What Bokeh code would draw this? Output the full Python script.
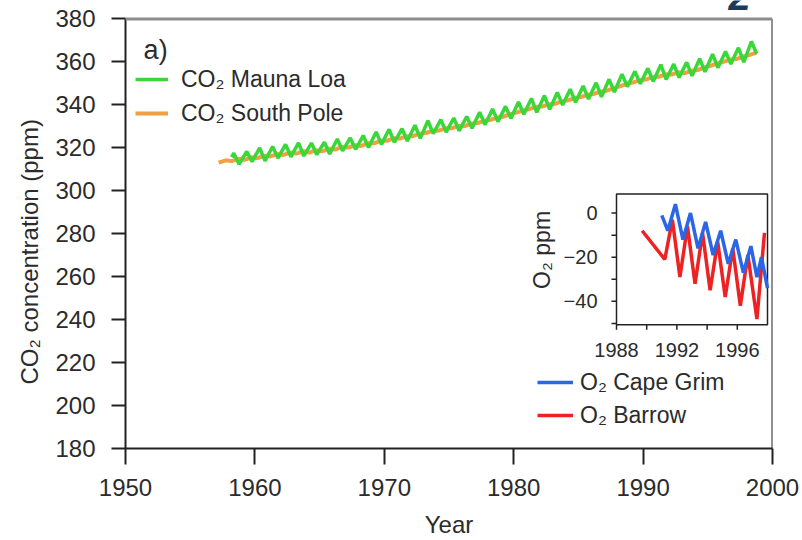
import math
from bokeh.plotting import figure
from bokeh.models import (Legend, LegendItem, Label, Span, FixedTicker, Range1d, Title)
from bokeh.core.properties import value
from bokeh.embed import file_html
from bokeh.resources import INLINE

# ---------------- data ----------------
# Mauna Loa CO2 (ppm): seasonal maximum (May) and minimum (Oct), 1958-1998
ml_years = list(range(1958, 1999))
ml_max = [317.5, 318.3, 320.0, 320.6, 321.6, 322.3, 322.2, 322.6, 324.1, 324.6,
          325.7, 327.4, 328.6, 328.9, 330.5, 332.6, 333.1, 333.9, 334.6, 336.6,
          338.1, 339.3, 341.4, 343.0, 344.3, 345.8, 347.3, 348.8, 350.3, 351.9,
          354.3, 355.6, 357.0, 358.7, 359.0, 359.8, 361.5, 363.6, 364.9, 366.6,
          369.5]
ml_min = [312.4, 313.6, 313.9, 315.2, 315.8, 316.2, 316.8, 317.1, 318.6, 319.3,
          320.1, 321.6, 322.6, 323.2, 324.4, 326.6, 327.3, 327.9, 329.1, 330.7,
          332.2, 333.7, 335.6, 336.5, 337.9, 339.9, 341.2, 342.7, 343.7, 346.0,
          348.5, 349.8, 350.9, 351.8, 352.7, 353.5, 355.4, 357.3, 359.0, 359.9,
          363.8]
ml_first_t, ml_first_v = 1958.2, 315.7

# South Pole CO2 (ppm): seasonal low (Mar) and high (Oct), 1957-1998
sp_years = list(range(1957, 1999))
sp_low = [313.1, 313.8, 314.4, 315.2, 316.0, 316.7, 317.3, 317.8, 318.4, 319.2,
          320.1, 320.9, 322.1, 323.3, 324.3, 325.4, 326.9, 328.0, 329.1, 330.1,
          331.5, 333.0, 334.5, 336.4, 338.0, 339.2, 340.5, 342.1, 343.6, 345.1,
          346.6, 348.6, 350.4, 351.8, 353.1, 354.1, 354.7, 356.2, 358.2, 360.0,
          361.3, 363.2]
sp_high = [314.2, 314.9, 315.6, 316.3, 317.1, 317.8, 318.4, 318.9, 319.6, 320.4,
           321.2, 322.1, 323.3, 324.4, 325.4, 326.6, 328.0, 329.1, 330.2, 331.3,
           332.7, 334.1, 335.7, 337.5, 339.1, 340.3, 341.7, 343.2, 344.8, 346.2,
           347.8, 349.8, 351.5, 352.9, 354.2, 355.2, 355.9, 357.4, 359.3, 361.1,
           362.5, 364.3]

# O2 (ppm, relative) - Barrow
barrow_t = [1989.7, 1991.2, 1991.7, 1992.2, 1992.7, 1993.2, 1993.7, 1994.2,
            1994.7, 1995.2, 1995.7, 1996.2, 1996.7, 1997.3, 1997.8]
barrow_o2 = [-8, -21, -3, -29, -6, -32, -9, -35, -13, -38, -16, -42, -19, -48, -9]

# O2 (ppm, relative) - Cape Grim
capegrim_t = [1991.0, 1991.4, 1991.9, 1992.4, 1992.9, 1993.4, 1993.9, 1994.4,
              1994.9, 1995.4, 1995.9, 1996.4, 1996.9, 1997.3, 1997.6, 1998.0]
capegrim_o2 = [-1, -8, 4, -12, 0, -16, -4, -19, -8, -23, -12, -27, -15, -29, -20, -34]

main_xticks = [1950, 1960, 1970, 1980, 1990, 2000]
main_yticks = [180, 200, 220, 240, 260, 280, 300, 320, 340, 360, 380]
inset_xlabels = [1988, 1992, 1996]
inset_xticks = [1988, 1990, 1992, 1994, 1996]
inset_ylabels = [-40, -20, 0]
inset_yticks = [-50, -40, -30, -20, -10, 0]

# ---------------- layout constants (pixels) ----------------
W, H = 802, 540
FL, FR, FB = 125, 772, 449          # main frame left/right/bottom (top = 0)
PLOT_TOP = 18.5                     # where y=380 lies
X0, X1, Y0, Y1 = 1950, 2000, 180, 380
ypx = (FB - PLOT_TOP) / (Y1 - Y0)
y_top = Y1 + PLOT_TOP / ypx

# inset box in pixels and its data extents
IL, IR, IT, IB = 616, 767, 194, 325
IX0, IX1, IY0, IY1 = 1988, 1998, -50.6, 8.6
ixpx = (IR - IL) / (IX1 - IX0)
iypx = (IB - IT) / (IY1 - IY0)
ix_range = Range1d(IX0 - (IL - FL) / ixpx, IX1 + (FR - IR) / ixpx)
iy_range = Range1d(IY0 - (FB - IB) / iypx, IY1 + IT / iypx)

FONT = "Liberation Sans"
TXT = "#2b2b2b"
AX = "#222222"

# ---------------- main figure ----------------
p = figure(width=W, height=H, x_range=Range1d(X0, X1), y_range=Range1d(Y0, y_top),
           output_backend="svg", toolbar_location=None,
           min_border_left=FL, min_border_right=W - FR, min_border_top=0,
           min_border_bottom=H - FB)
p.extra_x_ranges = {"ix": ix_range}
p.extra_y_ranges = {"iy": iy_range}
p.background_fill_color = "white"
p.border_fill_color = "white"
p.outline_line_color = None
p.xgrid.visible = False
p.ygrid.visible = False

p.xaxis.ticker = FixedTicker(ticks=main_xticks)
p.yaxis.ticker = FixedTicker(ticks=main_yticks)
p.yaxis.bounds = (Y0, Y1)
for ax in (p.xaxis[0], p.yaxis[0]):
    ax.axis_line_width = 2
    ax.axis_line_color = AX
    ax.major_tick_line_width = 2
    ax.major_tick_line_color = AX
    ax.major_tick_in = 0
    ax.minor_tick_line_color = None
    ax.major_label_text_font = FONT
    ax.major_label_text_font_size = "24px"
    ax.major_label_text_color = TXT
p.xaxis.major_tick_out = 16
p.xaxis.major_label_standoff = 14
p.yaxis.major_tick_out = 14
p.yaxis.major_label_standoff = 16
p.xaxis.axis_label = "Year"
p.xaxis.axis_label_text_font = FONT
p.xaxis.axis_label_text_font_size = "24px"
p.xaxis.axis_label_text_font_style = "normal"
p.xaxis.axis_label_text_color = TXT
p.xaxis.axis_label_standoff = 12

ytitle = Title(text="CO₂ concentration (ppm)", align="left", offset=64,
               text_font=FONT, text_font_size="24px", text_font_style="normal",
               text_color=TXT, standoff=19)
p.add_layout(ytitle, "left")

# frame top (grey) and right edge
p.add_layout(Span(location=Y1, dimension="width", line_color="#8c8c8c", line_width=3))
p.segment(x0=[X1], y0=[Y0], x1=[X1], y1=[Y1], line_color=AX, line_width=2)

sp_t, sp_v = [], []
for y, lo, hi in zip(sp_years, sp_low, sp_high):
    sp_t += [y + 0.2, y + 0.75]
    sp_v += [lo, hi]
ml_t, ml_v = [ml_first_t], [ml_first_v]
for y, hi, lo in zip(ml_years, ml_max, ml_min):
    ml_t += [y + 0.37, y + 0.78]
    ml_v += [hi, lo]

sp_r = p.line(sp_t, sp_v, line_color="#f0a040", line_width=4)
ml_r = p.line(ml_t, ml_v, line_color="#38d838", line_width=3.5)

leg = Legend(items=[LegendItem(label="CO₂ Mauna Loa", renderers=[ml_r]),
                    LegendItem(label="CO₂ South Pole", renderers=[sp_r])],
             location=(10, 320), padding=0, margin=0, spacing=4,
             glyph_width=33, glyph_height=30, label_height=30, label_standoff=13,
             label_text_font=FONT, label_text_font_size="23px", label_text_color=TXT,
             background_fill_alpha=0, border_line_color=None)
p.add_layout(leg)

p.add_layout(Label(x=1951.4, y=358.4, text="a)", text_font=FONT, text_font_size="27px",
                   text_color=TXT))
p.add_layout(Label(x=1996.6, y=Y1 + (PLOT_TOP - 10) / ypx, text="2", text_font=FONT,
                   text_font_size="40px", text_font_style="bold italic",
                   text_color="#1d3a5a"))

# ---------------- inset (drawn on its own ranges) ----------------
kw = dict(x_range_name="ix", y_range_name="iy")
p.quad(left=[IX0], right=[IX1], bottom=[IY0], top=[IY1], fill_color="white",
       line_color=AX, line_width=1.5, **kw)
tick_y = 5 / iypx
tick_x = 5 / ixpx
p.segment(x0=inset_xticks, y0=[IY0] * len(inset_xticks), x1=inset_xticks,
          y1=[IY0 - tick_y] * len(inset_xticks), line_color=AX, line_width=1.5, **kw)
p.segment(x0=[IX0] * len(inset_yticks), y0=inset_yticks, x1=[IX0 - tick_x] * len(inset_yticks),
          y1=inset_yticks, line_color=AX, line_width=1.5, **kw)
p.text(x=inset_xlabels, y=[IY0] * len(inset_xlabels), text=[str(v) for v in inset_xlabels],
       y_offset=25, text_align="center", text_baseline="middle",
       text_font=value(FONT), text_font_size="20px", text_color=TXT, **kw)
p.text(x=[IX0] * len(inset_ylabels), y=inset_ylabels,
       text=[("−" + str(-v)) if v < 0 else str(v) for v in inset_ylabels],
       x_offset=-19, text_align="right", text_baseline="middle",
       text_font=value(FONT), text_font_size="20px", text_color=TXT, **kw)
p.text(x=[IX0], y=[-16.7], text=["O₂ ppm"], x_offset=-75, angle=math.pi / 2,
       text_align="center", text_baseline="middle",
       text_font=value(FONT), text_font_size="23px", text_color=TXT, **kw)

bar_r = p.line(barrow_t, barrow_o2, line_color="#ee2222", line_width=3.5, **kw)
cg_r = p.line(capegrim_t, capegrim_o2, line_color="#2a66e6", line_width=3.5, **kw)

leg2 = Legend(items=[LegendItem(label="O₂ Cape Grim", renderers=[cg_r]),
                     LegendItem(label="O₂ Barrow", renderers=[bar_r])],
              location=(412, 18), padding=0, margin=0, spacing=3,
              glyph_width=36, glyph_height=30, label_height=30, label_standoff=7,
              label_text_font=FONT, label_text_font_size="23px", label_text_color=TXT,
              background_fill_alpha=0, border_line_color=None)
p.add_layout(leg2)

open("out.html", "w").write(file_html(p, INLINE))
